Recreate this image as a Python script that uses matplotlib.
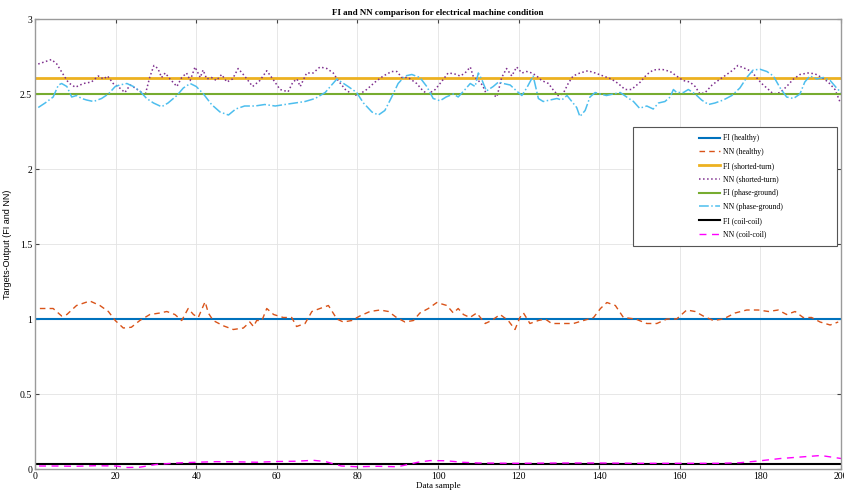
import numpy as np
import matplotlib.pyplot as plt
from matplotlib.patches import Rectangle

# FI targets (constant levels)
fi_healthy = 1.0
fi_shorted = 2.61
fi_phase = 2.50
fi_coil = 0.035

# NN healthy
nn_healthy_x = [1.2, 4.5, 6.6, 7.9, 10.3, 13.6, 16.1, 18.2, 19.9, 21.9, 23.9, 26.0, 28.5, 31.0, 32.7,
                34.7, 36.4, 38.0, 39.3, 40.5, 42.2, 43.0, 44.2, 46.7, 49.2, 51.7, 53.3, 54.2, 55.0,
                56.3, 57.5, 59.2, 61.6, 63.7, 64.9, 67.0, 68.7, 70.7, 72.8, 74.9, 76.5, 78.6, 80.6,
                83.1, 85.6, 87.7, 89.7, 91.8, 93.9, 95.5, 97.6, 99.7, 102.2, 103.8, 105.0, 106.3,
                107.9, 109.6, 111.7, 113.3, 115.4, 117.4, 119.1, 120.3, 121.2, 122.8, 124.9, 126.6,
                128.2, 130.3, 133.6, 136.1, 138.6, 140.3, 141.9, 144.0, 146.0, 149.0, 151.8, 154.3,
                156.8, 159.2, 161.7, 163.8, 165.8, 168.3, 170.8, 173.7, 176.6, 179.5, 182.0, 184.4,
                186.5, 188.6, 190.6, 192.7, 194.8, 197.3, 199.3]
nn_healthy_y = [1.07, 1.07, 1.02, 1.03, 1.09, 1.12, 1.09, 1.05, 0.99, 0.94, 0.945, 0.99, 1.03, 1.04, 1.05,
                1.03, 0.99, 1.07, 1.03, 1.01, 1.115, 1.04, 0.99, 0.955, 0.93, 0.94, 0.98, 0.95, 0.99,
                0.99, 1.07, 1.03, 1.01, 1.01, 0.95, 0.97, 1.05, 1.07, 1.09, 1.00, 0.98, 0.99, 1.02,
                1.05, 1.06, 1.05, 1.01, 0.98, 0.99, 1.04, 1.07, 1.11, 1.09, 1.04, 1.07, 1.03,
                1.01, 1.04, 0.97, 0.99, 1.03, 0.99, 0.93, 1.01, 1.04, 0.97, 0.99, 1.00,
                0.97, 0.97, 0.97, 0.99, 1.01, 1.07, 1.11, 1.09, 1.01, 1.00, 0.97, 0.97,
                1.00, 1.00, 1.06, 1.05, 1.02, 0.99, 1.00, 1.04, 1.06, 1.06, 1.05, 1.06,
                1.03, 1.05, 1.01, 1.01, 0.98, 0.96, 0.98]

# NN shorted-turn
nn_shorted_x = [0.8, 4.1, 5.4, 7.0, 8.3, 10.0, 12.0, 14.0, 15.7, 17.0, 18.0, 19.4, 20.6, 22.3, 23.6,
                24.8, 26.5, 27.3, 28.5, 29.5, 30.5, 31.4, 32.3, 33.5, 35.2, 36.4, 37.6, 38.5, 39.7,
                41.0, 41.7, 42.6, 43.8, 45.0, 46.3, 47.6, 49.0, 50.4, 52.0, 54.0, 55.8, 57.5, 59.0,
                60.8, 62.8, 64.0, 65.0, 65.8, 67.4, 69.0, 70.7, 72.4, 74.0, 75.2, 77.0, 78.6, 80.0,
                82.3, 84.4, 86.4, 88.5, 89.8, 91.0, 92.6, 94.7, 96.3, 97.5, 99.3, 100.8, 102.5,
                104.0, 105.5, 106.7, 108.0, 108.7, 110.0, 111.0, 112.0, 113.3, 114.6, 115.8, 117.0,
                118.3, 119.5, 120.8, 122.0, 123.3, 124.5, 125.7, 127.4, 128.5, 129.8, 131.0, 132.3,
                133.5, 135.2, 137.2, 139.0, 141.0, 143.0, 144.7, 146.4, 148.0, 150.2, 151.8, 153.4,
                155.5, 157.6, 159.2, 160.8, 162.5, 163.8, 165.0, 166.3, 168.0, 169.5, 171.6, 173.2,
                174.4, 176.2, 177.8, 179.0, 180.3, 182.0, 183.2, 184.9, 186.5, 188.2, 189.8, 191.8,
                193.5, 195.2, 196.8, 198.5, 199.7]
nn_shorted_y = [2.70, 2.73, 2.70, 2.63, 2.575, 2.545, 2.57, 2.58, 2.62, 2.60, 2.62, 2.57, 2.55, 2.51, 2.56,
                2.54, 2.51, 2.49, 2.615, 2.69, 2.67, 2.61, 2.64, 2.60, 2.55, 2.61, 2.64, 2.59, 2.68,
                2.61, 2.66, 2.60, 2.61, 2.59, 2.63, 2.58, 2.60, 2.67, 2.62, 2.55, 2.59, 2.655, 2.60,
                2.53, 2.515, 2.58, 2.60, 2.55, 2.64, 2.64, 2.68, 2.67, 2.64, 2.59, 2.53, 2.50, 2.49,
                2.53, 2.58, 2.62, 2.65, 2.65, 2.61, 2.61, 2.57, 2.52, 2.50, 2.53, 2.58, 2.64,
                2.635, 2.62, 2.64, 2.68, 2.62, 2.59, 2.56, 2.50, 2.50, 2.48, 2.61, 2.67,
                2.62, 2.68, 2.64, 2.65, 2.64, 2.62, 2.59, 2.57, 2.53, 2.49, 2.50, 2.57,
                2.62, 2.64, 2.655, 2.64, 2.62, 2.60, 2.57, 2.53, 2.53, 2.58, 2.63, 2.66,
                2.665, 2.65, 2.62, 2.59, 2.58, 2.55, 2.50, 2.51, 2.56, 2.59, 2.63, 2.66,
                2.69, 2.67, 2.65, 2.61, 2.57, 2.53, 2.50, 2.51, 2.55, 2.60, 2.63, 2.64,
                2.635, 2.61, 2.58, 2.53, 2.45]

# NN phase-ground
nn_phase_x = [0.8, 2.5, 4.5, 5.8, 6.6, 7.9, 9.1, 10.3, 11.6, 12.8, 14.5, 16.5, 18.2, 19.9, 21.0, 22.8,
              24.4, 26.0, 27.7, 29.4, 31.4, 33.0, 35.2, 36.8, 38.5, 40.0, 41.8, 43.8, 45.9, 48.0,
              49.8, 52.0, 54.6, 57.0, 59.6, 62.0, 64.5, 67.0, 69.5, 72.0, 73.6, 74.9, 76.0, 77.7,
              79.8, 81.5, 83.6, 85.2, 86.8, 88.5, 90.1, 91.8, 93.5, 95.5, 97.2, 98.8, 100.5, 102.0,
              103.8, 105.0, 106.7, 108.0, 109.2, 110.0, 110.8, 112.0, 113.7, 115.0, 116.2, 117.9,
              119.5, 120.8, 122.0, 123.6, 124.9, 126.1, 127.8, 129.5, 130.7, 132.0, 133.2, 134.4,
              135.2, 136.5, 137.7, 139.0, 140.2, 141.8, 143.5, 145.2, 146.8, 148.5, 150.0, 151.8,
              153.4, 154.7, 156.3, 157.6, 158.4, 159.2, 160.9, 162.1, 163.8, 165.4, 167.1, 168.7,
              170.8, 172.9, 174.9, 176.6, 178.2, 179.9, 181.6, 183.2, 184.9, 186.5, 188.2, 189.8,
              191.0, 192.3, 194.0, 195.6, 197.3, 198.9, 200.0]
nn_phase_y = [2.41, 2.44, 2.48, 2.56, 2.57, 2.55, 2.48, 2.49, 2.47, 2.46, 2.45, 2.47, 2.50, 2.55, 2.56, 2.57,
              2.55, 2.52, 2.47, 2.44, 2.415, 2.44, 2.49, 2.54, 2.57, 2.55, 2.50, 2.43, 2.38, 2.36,
              2.40, 2.42, 2.42, 2.43, 2.42, 2.43, 2.44, 2.45, 2.47, 2.51, 2.56, 2.60, 2.58, 2.55,
              2.51, 2.44, 2.38, 2.36, 2.39, 2.48, 2.57, 2.62, 2.63, 2.61, 2.55, 2.47, 2.455, 2.48,
              2.50, 2.48, 2.53, 2.57, 2.55, 2.64, 2.60, 2.52, 2.55, 2.58, 2.57, 2.56,
              2.52, 2.49, 2.54, 2.62, 2.47, 2.45, 2.46, 2.47, 2.46, 2.49, 2.45, 2.41,
              2.35, 2.39, 2.48, 2.51, 2.50, 2.49, 2.50, 2.51, 2.48, 2.45, 2.405, 2.42,
              2.40, 2.44, 2.45, 2.48, 2.53, 2.51, 2.51, 2.53, 2.50, 2.46, 2.43, 2.44,
              2.46, 2.49, 2.54, 2.61, 2.66, 2.665, 2.65, 2.62, 2.54, 2.48, 2.47, 2.50,
              2.58, 2.62, 2.60, 2.61, 2.59, 2.54, 2.51]

# NN coil-coil
nn_coil_x = [1, 5, 10, 15, 20, 23, 26, 30, 35, 40, 45, 50, 55, 60, 65, 69, 72, 76, 80, 85, 90, 95,
             98, 102, 106, 110, 120, 130, 140, 150, 160, 170, 175, 180, 185, 190, 195, 200]
nn_coil_y = [0.02, 0.02, 0.018, 0.022, 0.02, 0.01, 0.012, 0.03, 0.04, 0.045, 0.049, 0.048, 0.045, 0.05,
             0.052, 0.058, 0.05, 0.02, 0.015, 0.018, 0.015, 0.045, 0.056, 0.055, 0.045, 0.04, 0.038,
             0.04, 0.04, 0.038, 0.038, 0.038, 0.042, 0.055, 0.07, 0.08, 0.09, 0.07]

plt.rcParams['font.family'] = 'Liberation Serif'

fig = plt.figure(figsize=(8.44, 4.91), dpi=100)
ax = fig.add_axes([0.0415, 0.0448, 0.955, 0.9165])

h1 = ax.axhline(fi_healthy, color='#0072BD', lw=1.5, label='FI (healthy)')
h2, = ax.plot(nn_healthy_x, nn_healthy_y, color='#D95319', ls=(0, (4, 3)), lw=1.0, label='NN (healthy)')
h3 = ax.axhline(fi_shorted, color='#EDB120', lw=2.0, label='FI (shorted-turn)')
h4, = ax.plot(nn_shorted_x, nn_shorted_y, color='#7E2F8E', ls=':', lw=1.1, label='NN (shorted-turn)')
h5 = ax.axhline(fi_phase, color='#77AC30', lw=1.5, label='FI (phase-ground)')
h6, = ax.plot(nn_phase_x, nn_phase_y, color='#4DBEEE', ls='-.', lw=1.1, label='NN (phase-ground)')
h7 = ax.axhline(fi_coil, color='black', lw=1.5, label='FI (coil-coil)')
h8, = ax.plot(nn_coil_x, nn_coil_y, color='#FF00FF', ls=(0, (5, 4)), lw=1.0, label='NN (coil-coil)')

ax.set_xlim(0, 200)
ax.set_ylim(0, 3)
ax.set_xticks(np.arange(0, 201, 20))
ax.set_yticks(np.arange(0, 3.01, 0.5))
ax.set_yticklabels(['0', '0.5', '1', '1.5', '2', '2.5', '3'])
ax.grid(True, color='#e3e3e3', lw=0.6)
ax.tick_params(direction='in', length=3, labelsize=7, top=True, right=True, colors='#444444',
               labelcolor='black', pad=2)
for s in ax.spines.values():
    s.set_color('#9a9a9a')
    s.set_linewidth(1.0)

ax.set_title('FI and NN comparison for electrical machine condition', fontsize=6.5,
             fontweight='bold', pad=3)
ax.set_xlabel('Data sample', fontsize=6.5, labelpad=1)
ax.set_ylabel('Targets-Output (FI and NN)', fontsize=6.5, family='Liberation Sans', labelpad=6)

# legend box (MATLAB style, wide with left padding)
ax.add_patch(Rectangle((0.742, 0.496), 0.253, 0.264, transform=ax.transAxes,
                       facecolor='white', edgecolor='#555555', lw=0.8, zorder=5))
leg = ax.legend(handles=[h1, h2, h3, h4, h5, h6, h7, h8], loc='center', bbox_to_anchor=(0.876, 0.628),
                frameon=False, fontsize=5.5, handlelength=2.8, handletextpad=0.4, labelspacing=0.75)
leg.set_zorder(6)

fig.savefig('out.png', dpi=100)
